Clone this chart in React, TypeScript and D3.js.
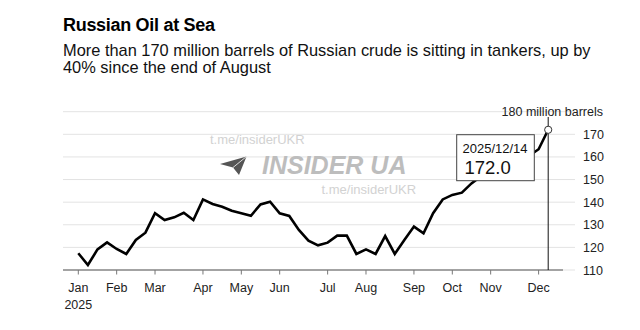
import React from "react";
import * as d3 from "d3";

const startDate = "2025-01-05";
const values: number[] = [
  117.4, 112.2, 119.1, 122.2, 119.3, 117.1, 123.3, 126.5, 135.1, 132.1,
  133.3, 135.3, 132.1, 141.2, 139.2, 138.0, 136.2, 135.1, 134.0, 139.0,
  140.2, 135.1, 133.9, 127.7, 123.0, 120.9, 122.1, 125.2, 125.2, 117.1,
  119.1, 117.1, 125.0, 117.1, 123.3, 129.2, 126.2, 135.1, 141.2, 143.2,
  144.2, 148.3, 151.5, 153.0, 155.0, 157.0, 158.5, 160.5, 163.4, 172.0,
];
const yTicks: number[] = [110, 120, 130, 140, 150, 160, 170];
const yTopLabel = "180 million barrels";
const title = "Russian Oil at Sea";
const subtitle1 = "More than 170 million barrels of Russian crude is sitting in tankers, up by";
const subtitle2 = "40% since the end of August";
const tooltipDate = "2025/12/14";
const tooltipValue = "172.0";

const FONT = "'Liberation Sans', Arial, Helvetica, sans-serif";

export default function App() {
  const W = 640, H = 330;
  const parse = d3.timeParse("%Y-%m-%d");
  const t0 = parse(startDate)!;
  const data = values.map((v, i) => ({ date: d3.timeDay.offset(t0, i * 7), value: v }));

  const x = d3.scaleTime()
    .domain([data[0].date, data[data.length - 1].date])
    .range([78.3, 548.2]);
  const y = d3.scaleLinear().domain([110, 180]).range([270, 111.7]);

  const line = d3.line<{ date: Date; value: number }>()
    .x(d => x(d.date))
    .y(d => y(d.value))
    .curve(d3.curveLinear);

  // tick at first weekly data point of each month
  const monthTicks = data.filter((d, i) => i === 0 || d.date.getMonth() !== data[i - 1].date.getMonth());
  const fmt = d3.timeFormat("%b");

  const last = data[data.length - 1];
  const lx = x(last.date);
  const ly = y(last.value);

  return (
    <svg width={W} height={H} style={{ position: "absolute", left: 0, top: 0, background: "#fff" }} fontFamily={FONT}>
      <rect width={W} height={H} fill="#fff" />
      <text x={63} y={31} fontSize={18} fontWeight="bold" fill="#000" letterSpacing={-0.3}>{title}</text>
      <text x={63} y={55.5} fontSize={16.4} fill="#111">{subtitle1}</text>
      <text x={63} y={73} fontSize={16.4} fill="#111">{subtitle2}</text>

      {/* gridlines */}
      {yTicks.concat([180]).map(t => (
        <line key={t} x1={63} x2={575} y1={y(t)} y2={y(t)} stroke="#e3e3e3" strokeWidth={1} />
      ))}

      {/* watermark */}
      <g>
        <text x={210} y={143.5} fontSize={13} fill="#d2d2d2">t.me/insiderUKR</text>
        <path d="M220,164 L246.5,156.5 L239,175 L233,167.5 Z" fill="#555" />
        <path d="M233,167.5 L246.5,156.5" stroke="#fff" strokeWidth={0.8} />
        <text x={262} y={174} fontSize={25} fontWeight="bold" fontStyle="italic" fill="#bdbdbd">INSIDER UA</text>
        <text x={321.5} y={193.5} fontSize={13} fill="#d2d2d2">t.me/insiderUKR</text>
      </g>

      {/* x axis */}
      <line x1={63} x2={563} y1={270} y2={270} stroke="#888" strokeWidth={1.5} />
      {monthTicks.map((d, i) => (
        <g key={i} transform={`translate(${x(d.date)},0)`}>
          <line y1={270} y2={274.5} stroke="#777" strokeWidth={1} />
          <text y={292} textAnchor="middle" fontSize={12.5} fill="#222">{fmt(d.date)}</text>
        </g>
      ))}
      <text x={x(data[0].date)} y={308.5} textAnchor="middle" fontSize={12.5} fill="#222">2025</text>

      {/* y axis labels */}
      {yTicks.map(t => (
        <text key={t} x={583} y={y(t) + 4.5} fontSize={12.5} fill="#222">{t}</text>
      ))}
      <text x={603} y={116} textAnchor="end" fontSize={12.5} fill="#222">{yTopLabel}</text>

      {/* series */}
      <path d={line(data) || ""} fill="none" stroke="#000" strokeWidth={2.6} strokeLinejoin="miter" />

      {/* marker */}
      <line x1={lx} x2={lx} y1={117} y2={270} stroke="#111" strokeWidth={1} />
      <circle cx={lx} cy={ly} r={3.6} fill="#fff" stroke="#333" strokeWidth={1} />

      {/* tooltip */}
      <rect x={456.7} y={134.7} width={77.6} height={46} fill="#fff" stroke="#444" strokeWidth={1} />
      <text x={462.5} y={152.5} fontSize={13} fill="#111">{tooltipDate}</text>
      <text x={464.5} y={174} fontSize={18.5} fill="#111">{tooltipValue}</text>
    </svg>
  );
}
